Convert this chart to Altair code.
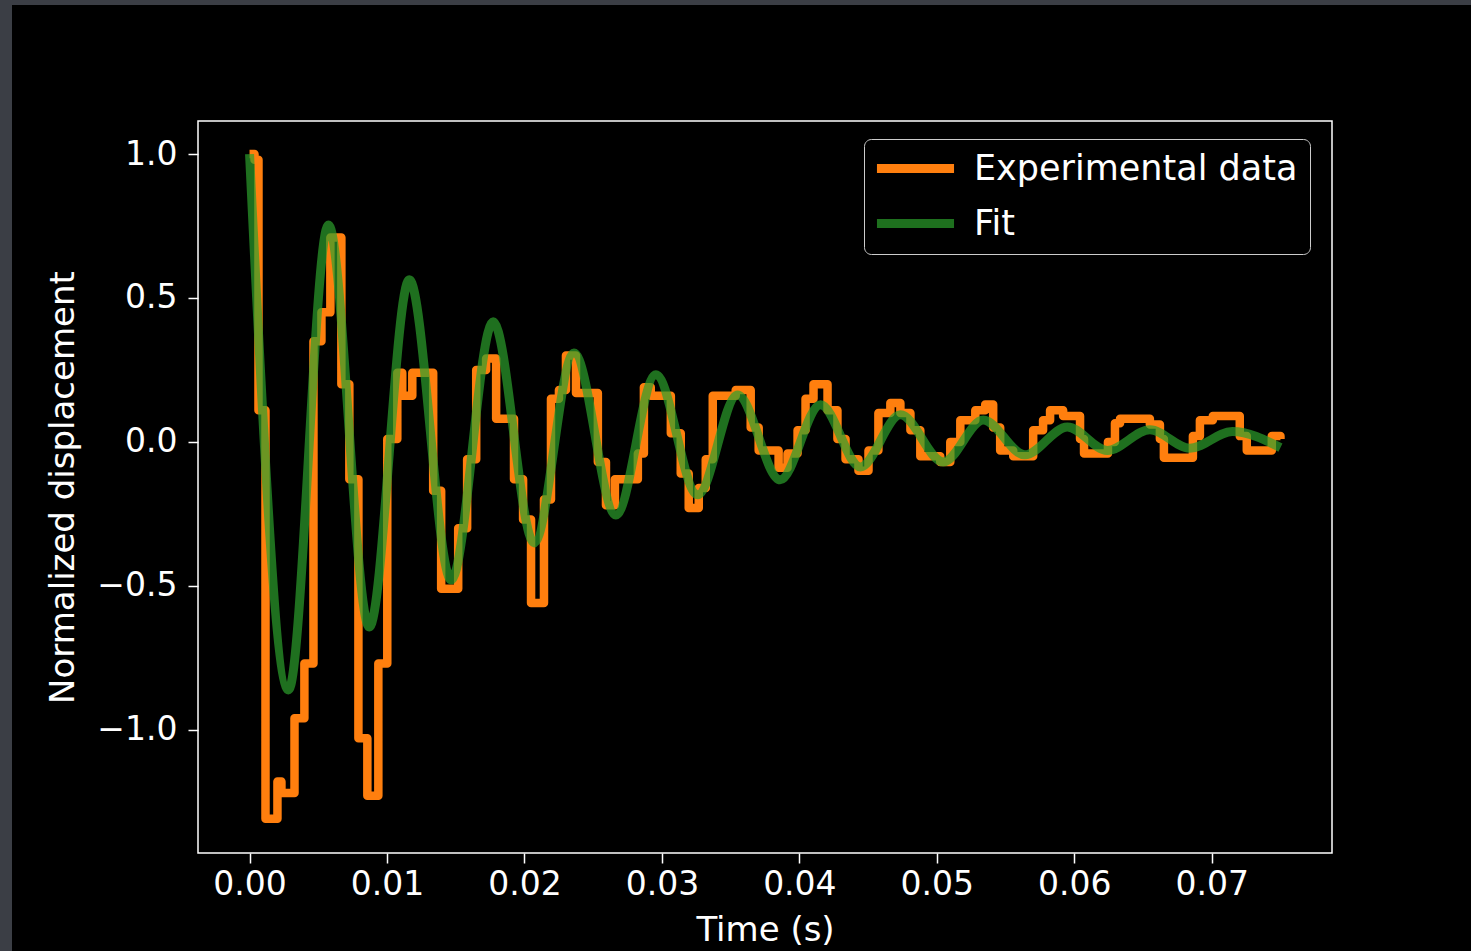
import altair as alt
import pandas as pd

exp_t = [0.0000, 0.00036, 0.00065, 0.00116, 0.00203, 0.00232, 0.00327, 0.00399,
         0.00465, 0.00523, 0.00588, 0.00668, 0.00726, 0.00792, 0.00857, 0.00937,
         0.01002, 0.01075, 0.01111, 0.01184, 0.01336, 0.01394, 0.01518, 0.01583,
         0.01649, 0.01721, 0.01794, 0.01924, 0.01990, 0.02048, 0.02142, 0.02193,
         0.02251, 0.02302, 0.02375, 0.02534, 0.02593, 0.02658, 0.02825, 0.02869,
         0.02919, 0.03065, 0.03137, 0.03195, 0.03268, 0.03319, 0.03370, 0.03537,
         0.03646, 0.03704, 0.03849, 0.03914, 0.03987, 0.04045, 0.04103, 0.04205,
         0.04277, 0.04336, 0.04430, 0.04503, 0.04575, 0.04662, 0.04735, 0.04808,
         0.04880, 0.05025, 0.05098, 0.05171, 0.05280, 0.05352, 0.05410, 0.05461,
         0.05556, 0.05701, 0.05773, 0.05824, 0.05919, 0.06042, 0.06071, 0.06245,
         0.06296, 0.06333, 0.06550, 0.06623, 0.06652, 0.06863, 0.06914, 0.07008,
         0.07204, 0.07255, 0.07437, 0.07500]
exp_v = [1.00, 0.98, 0.11, -1.31, -1.18, -1.22, -0.96, -0.77,
         0.35, 0.45, 0.71, 0.20, -0.13, -1.03, -1.23, -0.77,
         0.01, 0.24, 0.16, 0.24, -0.17, -0.51, -0.30, -0.06,
         0.25, 0.29, 0.08, -0.13, -0.27, -0.56, -0.20, 0.15,
         0.18, 0.30, 0.17, -0.07, -0.22, -0.13, -0.04, 0.19,
         0.16, 0.03, -0.11, -0.23, -0.16, -0.06, 0.16, 0.18,
         0.05, -0.03, -0.09, -0.04, 0.04, 0.15, 0.20, 0.11,
         0.01, -0.06, -0.10, -0.03, 0.10, 0.135, 0.10, 0.04,
         -0.05, -0.07, 0.00, 0.075, 0.11, 0.13, 0.05, -0.03,
         -0.05, 0.04, 0.075, 0.11, 0.09, 0.01, -0.04, 0.00,
         0.065, 0.08, 0.06, 0.01, -0.055, 0.02, 0.075, 0.09,
         0.02, -0.03, 0.02, 0.01]

# ---- Fit curve: extrema ----
fit_t = [0.0, 0.00283, 0.00574, 0.00871, 0.01162, 0.01467, 0.01772, 0.0207,
         0.0236, 0.02665, 0.02956, 0.0326, 0.0355, 0.0386, 0.04154, 0.04444,
         0.04735, 0.05047, 0.05338, 0.0564, 0.0595, 0.0624, 0.0655, 0.0684,
         0.0715, 0.075]
fit_v = [1.0, -0.862, 0.754, -0.643, 0.563, -0.48, 0.417, -0.351,
         0.309, -0.254, 0.233, -0.184, 0.163, -0.132, 0.129, -0.087,
         0.094, -0.07, 0.076, -0.045, 0.052, -0.03, 0.042, -0.022,
         0.036, -0.02]

series_names = ["Experimental data", "Fit"]
series_colors = ["#ff7f0e", "#2ca02c"]
x_ticks = [0.0, 0.01, 0.02, 0.03, 0.04, 0.05, 0.06, 0.07]
y_ticks = [-1.0, -0.5, 0.0, 0.5, 1.0]

exp_df = pd.DataFrame({"t": exp_t, "v": exp_v, "series": series_names[0]})
fit_df = pd.DataFrame({"t": fit_t, "v": fit_v, "series": series_names[1]})

FONT = "DejaVu Sans"

x_enc = alt.X(
    "t:Q",
    scale=alt.Scale(domain=[-0.00375, 0.07875], nice=False, zero=False),
    axis=alt.Axis(values=x_ticks, format=".2f", title="Time (s)",
                  labelPadding=5, titlePadding=12),
)
y_enc = alt.Y(
    "v:Q",
    scale=alt.Scale(domain=[-1.4286, 1.115], nice=False, zero=False),
    axis=alt.Axis(values=y_ticks,
                  labelExpr="replace(format(datum.value, '.1f'), '-', '\u2212')",
                  title="Normalized displacement", labelPadding=11, titlePadding=16),
)
color_enc = alt.Color(
    "series:N",
    scale=alt.Scale(domain=series_names, range=series_colors),
    legend=alt.Legend(
        title=None, orient="none", legendX=666, legendY=18,
        symbolType="M-3,0H3", symbolSize=660, symbolStrokeWidth=9,
        symbolOffset=22,
        symbolOpacity={"expr": "datum.value === 'Fit' ? 0.7 : 1"},
        labelFontSize=35, labelFont=FONT, labelColor="white", labelOffset=41,
        labelLimit=600,
        fillColor="black", strokeColor="#cccccc", cornerRadius=7, padding=12,
        rowPadding=18,
    ),
)

frame_df = pd.DataFrame({"k": [0]})
frame_left = alt.Chart(frame_df).mark_rect(color="#3b3e45").encode(
    x=alt.value(-198), x2=alt.value(-186), y=alt.value(-121), y2=alt.value(830))
frame_top = alt.Chart(frame_df).mark_rect(color="#3b3e45").encode(
    x=alt.value(-198), x2=alt.value(1273), y=alt.value(-121), y2=alt.value(-116))

exp_line = alt.Chart(exp_df).mark_line(
    interpolate="step-after", strokeWidth=8.5, strokeJoin="round"
).encode(x=x_enc, y=y_enc, color=color_enc)

fit_line = alt.Chart(fit_df).mark_line(
    interpolate="monotone", strokeWidth=9, opacity=0.7
).encode(x=x_enc, y=y_enc, color=color_enc)

chart = alt.layer(frame_left, frame_top, exp_line, fit_line).properties(
    width=1134, height=732,
    autosize=alt.AutoSizeParams(type="none"),
    padding={"left": 198, "top": 121, "right": 139, "bottom": 98},
    background="black",
).configure_view(
    stroke="white", strokeWidth=1.5
).configure_axis(
    domain=False, grid=False,
    tickColor="white", tickSize=10, tickWidth=1.5,
    labelColor="white", labelFont=FONT, labelFontSize=33,
    titleColor="white", titleFont=FONT, titleFontSize=34, titleFontWeight="normal",
)

chart.save("out.html", embed_options={"renderer": "svg", "actions": False})
